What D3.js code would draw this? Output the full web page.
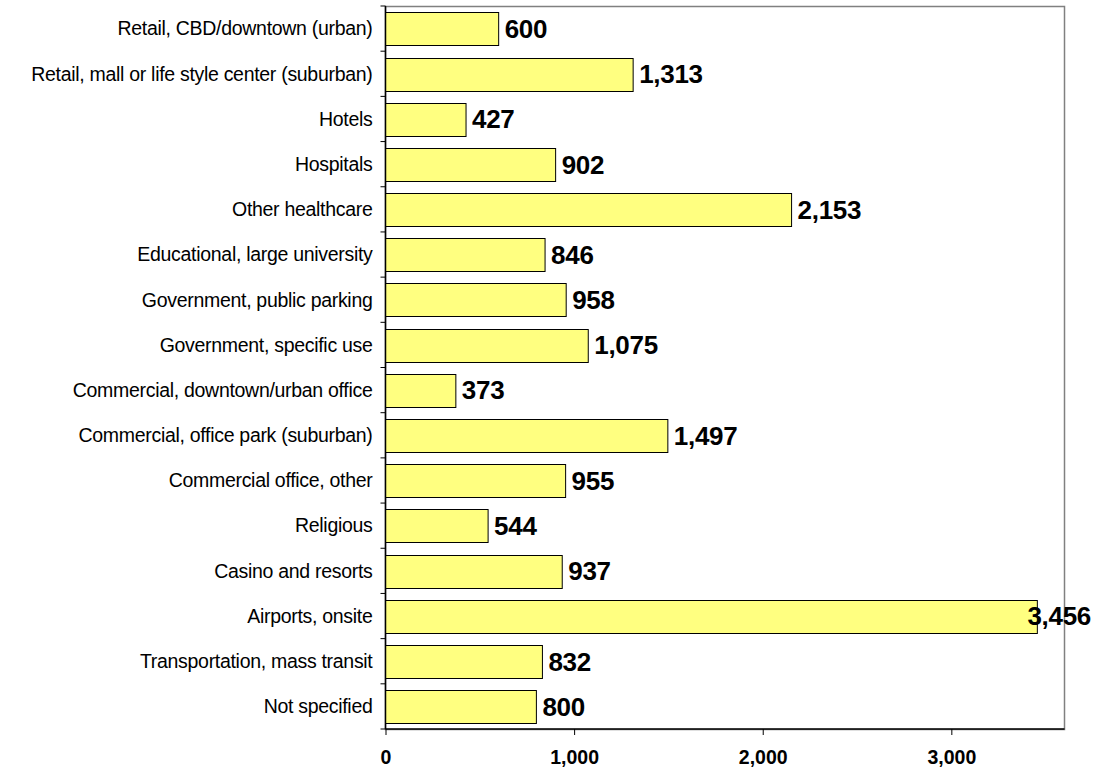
<!DOCTYPE html>
<html><head><meta charset="utf-8">
<script src="https://cdn.jsdelivr.net/npm/d3@7"></script>
<style>body{margin:0;background:#fff}svg{display:block}</style>
</head><body>
<script>
const categories = ["Retail, CBD/downtown (urban)","Retail, mall or life style center (suburban)","Hotels","Hospitals","Other healthcare","Educational, large university","Government, public parking ","Government, specific use ","Commercial, downtown/urban office","Commercial, office park (suburban)","Commercial office, other","Religious","Casino and resorts","Airports, onsite ","Transportation, mass transit ","Not specified"];
const values = [600,1313,427,902,2153,846,958,1075,373,1497,955,544,937,3456,832,800];
const xTicks = [0,1000,2000,3000];

const W=1102,H=767;
const L=385.5,R=1064.5,T=6,B=729;
const FONT="Liberation Sans, Arial, sans-serif";
const svg=d3.select("body").append("svg").attr("width",W).attr("height",H);
const x=d3.scaleLinear().domain([0,3600]).range([L,R]);
const y=d3.scaleBand().domain(categories).range([T,B]).paddingInner(0.28).paddingOuter(0.14);

// plot border
svg.append("rect").attr("x",L).attr("y",T+0.5).attr("width",R-L).attr("height",B-T)
  .attr("fill","none").attr("stroke","#808080").attr("stroke-width",1.5);

svg.append("g").selectAll("rect").data(values).join("rect")
  .attr("x",x(0)).attr("y",(d,i)=>Math.round(y(categories[i]))+0.5)
  .attr("width",d=>x(d)-x(0)).attr("height",Math.round(y.bandwidth()))
  .attr("fill","#FFFF80").attr("stroke","#000").attr("stroke-width",1);

// y axis
const ya=svg.append("g").attr("transform",`translate(${L},0)`)
  .call(d3.axisLeft(y).tickSize(0).tickPadding(13));
ya.select(".domain").remove();
ya.selectAll("text").attr("font-family",FONT).attr("font-size",19.5).attr("letter-spacing",-0.3)
  .attr("fill","#000").attr("dy","0.35em");
// y ticks between categories
const bounds=d3.range(categories.length+1).map(i=>T+i*(B-T)/categories.length);
svg.append("g").selectAll("line").data(bounds).join("line")
  .attr("x1",L-5).attr("x2",L).attr("y1",d=>d).attr("y2",d=>d).attr("stroke","#000");
svg.append("line").attr("x1",L).attr("x2",L).attr("y1",T).attr("y2",B).attr("stroke","#000").attr("stroke-width",1.5);

// x axis
const xa=svg.append("g").attr("transform",`translate(0,${B})`)
  .call(d3.axisBottom(x).tickValues(xTicks).tickSize(6).tickPadding(15).tickFormat(d3.format(",")));
xa.select(".domain").attr("stroke","#000").attr("stroke-width",1.5).attr("d",`M${L},0H${R}`);
xa.selectAll(".tick line").attr("stroke","#000");
xa.selectAll("text").attr("font-family",FONT).attr("font-size",19.5).attr("font-weight","bold").attr("fill","#000");

// value labels
const fmt=d3.format(",");
const lbl=svg.append("g").selectAll("text").data(values).join("text")
  .attr("font-family",FONT).attr("font-size",26).attr("font-weight","bold").attr("letter-spacing",-0.3)
  .attr("fill","#000").attr("y",(d,i)=>y(categories[i])+y.bandwidth()/2).attr("dy","0.36em")
  .text(d=>fmt(d));
lbl.each(function(d){
  const w=this.getComputedTextLength();
  this.setAttribute("x",Math.min(x(d)+6,1091-w));
});
</script>
</body></html>
